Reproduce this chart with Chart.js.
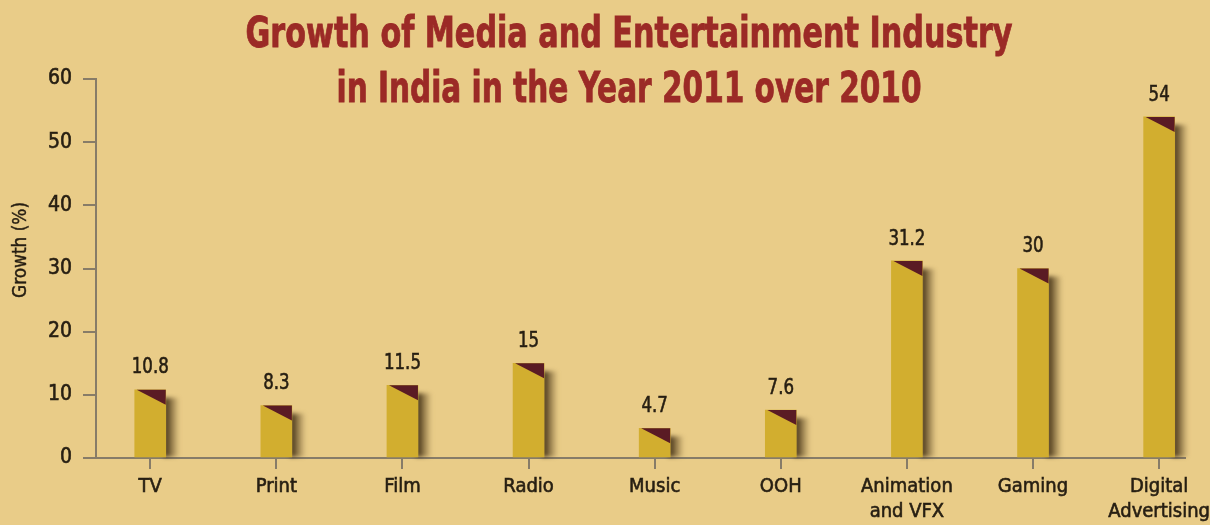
<!DOCTYPE html>
<html>
<head>
<meta charset="utf-8">
<title>Growth of Media and Entertainment Industry in India</title>
<script src="https://cdn.jsdelivr.net/npm/chart.js@4/dist/chart.umd.min.js"></script>
<style>
  html, body { margin: 0; padding: 0; background: #e9cc88; overflow: hidden; }
  #wrap { width: 1210px; height: 525px; }
</style>
</head>
<body>
<div id="wrap"><canvas id="chart" width="1210" height="525"></canvas></div>
<script>
// Industry segments (one bar each)
const categories = ['TV', 'Print', 'Film', 'Radio', 'Music', 'OOH', 'Animation and VFX', 'Gaming', 'Digital Advertising'];
// Segment names as printed under the axis, split into lines
const categoryLines = [['TV'], ['Print'], ['Film'], ['Radio'], ['Music'], ['OOH'], ['Animation', 'and VFX'], ['Gaming'], ['Digital', 'Advertising']];
// Growth in 2011 over 2010, per cent
const growth = [10.8, 8.3, 11.5, 15, 4.7, 7.6, 31.2, 30, 54];
// Value axis ticks
const yTicks = [0, 10, 20, 30, 40, 50, 60];

const titleLines = ['Growth of Media and Entertainment Industry', 'in India in the Year 2011 over 2010'];
const yAxisTitle = 'Growth (%)';

const FONT = "'Liberation Sans Narrow', 'DejaVu Sans Condensed', 'Roboto Condensed', sans-serif";
const BG = '#e9cc88';
const BAR = '#d2ae2f';
const CAP = '#5a1b24';
const TITLE = '#9b2a26';
const TEXT = '#261e12';
const AXIS = '#877c68';

// Draws a line of text squeezed horizontally to a narrower face,
// with a hairline stroke to give it a medium weight
function drawNarrow(ctx, text, x, y, sx, stroke) {
  ctx.save();
  ctx.translate(x, y);
  ctx.scale(sx, 1);
  ctx.fillText(text, 0, 0);
  if (stroke) {
    ctx.strokeStyle = ctx.fillStyle;
    ctx.lineWidth = stroke;
    ctx.strokeText(text, 0, 0);
  }
  ctx.restore();
}

// Page colour behind the chart, title and rotated axis title
const decorPlugin = {
  id: 'decor',
  beforeDraw(chart) {
    const ctx = chart.ctx;
    ctx.save();
    ctx.fillStyle = BG;
    ctx.fillRect(0, 0, chart.width, chart.height);
    ctx.restore();
  },
  afterDraw(chart) {
    const ctx = chart.ctx;
    ctx.save();
    ctx.fillStyle = TITLE;
    ctx.textAlign = 'center';
    ctx.textBaseline = 'alphabetic';
    ctx.font = 'bold 42px ' + FONT;
    const targets = [767, 585];
    const baselines = [47, 102];
    titleLines.forEach((line, i) => {
      const w = ctx.measureText(line).width;
      drawNarrow(ctx, line, 629, baselines[i], targets[i] / w, 0.8);
    });

    ctx.fillStyle = TEXT;
    ctx.font = '19px ' + FONT;
    ctx.translate(21, 250);
    ctx.rotate(-Math.PI / 2);
    ctx.textAlign = 'center';
    ctx.textBaseline = 'middle';
    const w = ctx.measureText(yAxisTitle).width;
    drawNarrow(ctx, yAxisTitle, 0, 0, 96 / w, 0.4);
    ctx.restore();
  }
};

// Soft shadow on the right of every bar, dark cap on top and value label
const barDecorPlugin = {
  id: 'barDecor',
  beforeDatasetsDraw(chart) {
    const ctx = chart.ctx;
    const meta = chart.getDatasetMeta(0);
    ctx.save();
    meta.data.forEach(bar => {
      const right = bar.x + bar.width / 2;
      const top = bar.y + 8;
      const bottom = bar.base;
      const g = ctx.createLinearGradient(right, 0, right + 14, 0);
      g.addColorStop(0, 'rgba(60, 42, 18, 0.95)');
      g.addColorStop(0.45, 'rgba(85, 64, 30, 0.55)');
      g.addColorStop(1, 'rgba(110, 85, 45, 0)');
      ctx.fillStyle = g;
      ctx.filter = 'blur(2px)';
      ctx.fillRect(right - 2, top, 16, bottom - top);
    });
    ctx.filter = 'none';
    ctx.restore();
  },
  afterDatasetsDraw(chart) {
    const ctx = chart.ctx;
    const meta = chart.getDatasetMeta(0);
    ctx.save();
    meta.data.forEach((bar, i) => {
      const left = bar.x - bar.width / 2;
      const right = bar.x + bar.width / 2;
      ctx.fillStyle = CAP;
      ctx.beginPath();
      ctx.moveTo(left + 2, bar.y);
      ctx.lineTo(right, bar.y);
      ctx.lineTo(right, bar.y + 15);
      ctx.closePath();
      ctx.fill();

      ctx.fillStyle = TEXT;
      ctx.font = '22px ' + FONT;
      ctx.textAlign = 'center';
      ctx.textBaseline = 'middle';
      drawNarrow(ctx, String(growth[i]), bar.x, bar.y - 22, 0.84, 0.6);
    });
    ctx.restore();
  }
};

new Chart(document.getElementById('chart'), {
  type: 'bar',
  data: {
    datasets: [{
      label: yAxisTitle,
      data: growth.map((v, i) => ({ x: i, y: v })),
      backgroundColor: BAR,
      borderWidth: 0,
      barThickness: 31
    }]
  },
  options: {
    responsive: false,
    animation: false,
    devicePixelRatio: 1,
    layout: { padding: { top: 79, right: 25, left: 0, bottom: 0 } },
    plugins: {
      legend: { display: false },
      tooltip: { enabled: false },
      title: { display: false }
    },
    scales: {
      x: {
        type: 'linear',
        offset: false,
        min: -0.43,
        max: 8.205,
        afterBuildTicks(scale) { scale.ticks = categories.map((c, i) => ({ value: i })); },
        afterFit(scale) {
          scale.height = 67;
          // the last label may run to the canvas edge, as it does in print
          scale.paddingLeft = 0;
          scale.paddingRight = 0;
        },
        grid: { offset: false, drawOnChartArea: false, drawTicks: true, tickLength: 11, color: AXIS, lineWidth: 2 },
        border: { color: AXIS, width: 2 },
        ticks: {
          autoSkip: false,
          maxRotation: 0,
          padding: 5,
          color: TEXT,
          textStrokeColor: TEXT,
          textStrokeWidth: 0.6,
          font: { family: FONT, size: 20, lineHeight: 1.25 },
          callback: (value) => categoryLines[value]
        }
      },
      y: {
        min: 0,
        max: 60,
        afterBuildTicks(scale) { scale.ticks = yTicks.map(v => ({ value: v })); },
        afterFit(scale) { scale.width = 96; },
        grid: { drawOnChartArea: false, drawTicks: true, tickLength: 13, color: AXIS, lineWidth: 2 },
        border: { color: AXIS, width: 2 },
        ticks: {
          padding: 11,
          color: TEXT,
          textStrokeColor: TEXT,
          textStrokeWidth: 0.6,
          font: { family: FONT, size: 21 }
        }
      }
    }
  },
  plugins: [decorPlugin, barDecorPlugin]
});
</script>
</body>
</html>
